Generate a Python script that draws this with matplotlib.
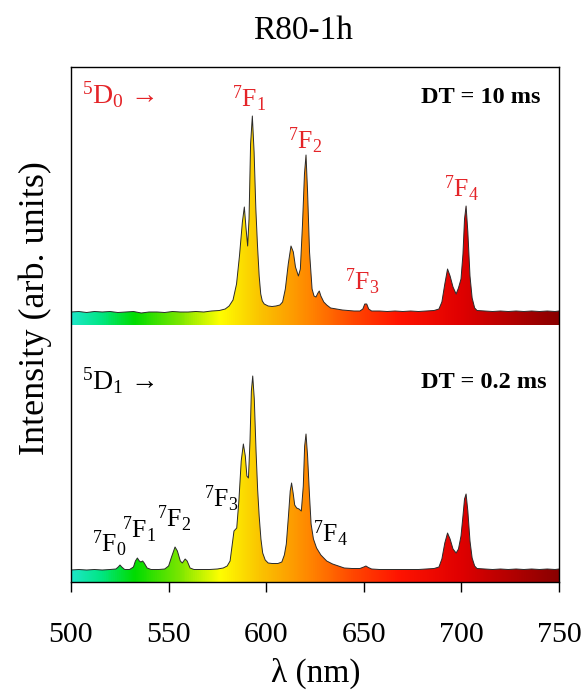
import numpy as np
import matplotlib
matplotlib.use("Agg")
import matplotlib.pyplot as plt
from matplotlib.colors import LinearSegmentedColormap
from matplotlib.patches import Polygon

plt.rcParams["font.family"] = ["Liberation Serif", "DejaVu Serif"]
plt.rcParams["mathtext.fontset"] = "custom"
plt.rcParams["mathtext.rm"] = "Liberation Serif"
plt.rcParams["mathtext.it"] = "Liberation Serif:italic"

#%% spectra (intensity above baseline, arb. units)
wl_10ms = [500, 504, 508, 512, 516, 520, 524, 528, 532, 536, 540, 544, 548, 552, 556, 560, 564, 568, 572, 576,
           579, 581, 583, 584.8, 586.3, 587.8, 588.8, 589.7, 590.5, 591.2, 592.0, 592.9, 593.8, 594.7, 595.5,
           596.4, 597.2, 598, 599, 601, 603, 605, 607, 608.4, 609.8, 611.3, 612.7, 613.9, 615, 616.5, 617.5,
           618.6, 619.6, 620.4, 621.2, 622.2, 623.5, 624.5, 625.5, 626.5, 627.2, 628, 629.5, 631, 633, 636,
           639, 642, 645, 648, 649.5, 650.5, 651.5, 652.5, 654, 658, 662, 666, 670, 674, 678, 682, 686, 688.5,
           690, 691.5, 692.9, 694.2, 695.7, 697.3, 698.5, 699.8, 700.8, 701.6, 702.4, 703.3, 704.4, 705.5,
           706.8, 708, 712, 716, 720, 724, 728, 732, 736, 740, 744, 748, 750]
I_10ms = [2, 2.5, 1.5, 2.5, 2, 2.5, 1.5, 2, 2.5, 1, 2, 2, 1.5, 2.5, 2, 2, 2.5, 2, 3, 3.5,
          5, 8, 14, 30, 58, 92, 107, 85, 68, 95, 170, 198, 162, 105, 70, 38,
          20, 13, 10, 8, 7.5, 8, 9, 12, 25, 50, 68, 62, 47, 38, 45, 90,
          140, 159, 122, 62, 25, 18, 17, 21, 23, 18, 12, 9, 6, 5,
          4, 3.5, 3, 3, 5, 10, 10, 5, 3, 3, 2.5, 3, 2.5, 3, 2.5, 3, 3.5, 5,
          12, 30, 45, 38, 27, 20, 26, 35, 60, 95, 108, 82, 38, 16,
          6, 3.5, 3, 2.5, 3, 2.5, 3, 2.5, 3, 2.5, 3, 2.5, 3]

wl_02ms = [500, 504, 508, 512, 516, 520, 523, 524.2, 525.1, 526, 527.5, 530, 532, 533, 534, 535, 535.8, 536.7,
           537.5, 539, 541, 545, 548, 550, 551.5, 553.3, 554.5, 556, 557, 558.5, 559.5, 561, 563, 567, 571,
           575, 578, 580, 581.5, 582.5, 583.5, 584.9, 586, 587.2, 588.3, 589.3, 590.1, 590.9, 591.7, 592.4,
           593.1, 593.9, 594.8, 595.6, 596.4, 597.3, 598.2, 599.5, 601, 603, 606, 608, 609.3, 610.3, 611.4,
           612.3, 613, 613.8, 614.6, 615.6, 616.8, 618, 619, 619.7, 620.4, 621.2, 622.2, 623, 624.2, 625.8,
           628, 631, 634, 637, 640, 644, 648, 650, 651.1, 652.3, 654, 658, 662, 666, 670, 674, 678, 682, 686,
           688.5, 690, 691.5, 692.9, 694.2, 695.7, 697.3, 698.5, 699.8, 700.8, 701.6, 702.4, 703.3, 704.4,
           705.5, 706.8, 708, 712, 716, 720, 724, 728, 732, 736, 740, 744, 748, 750]
I_02ms = [1, 1.5, 1, 1.5, 1, 1.5, 2, 4, 6, 4, 1.5, 1.5, 4, 10, 13, 10, 9, 10,
          8, 3, 1.5, 1.5, 2, 5, 14, 24, 20, 10, 8, 12, 10, 3, 1.5, 1.5, 1.5,
          2, 3, 5, 10, 25, 40, 43, 70, 110, 127, 115, 95, 93, 130, 180,
          195, 172, 120, 82, 55, 32, 18, 11, 8, 7.5, 7.5, 9, 16, 27, 55,
          80, 88, 78, 66, 63, 62, 60, 85, 125, 137, 115, 75, 47, 32, 23,
          16, 10, 7, 5, 3, 2.5, 2.5, 4, 5, 3.5, 2, 1.5, 1.5, 1.5, 1.5, 1.5, 1.5, 2, 2.5,
          4, 12, 28, 38, 32, 22, 18, 22, 35, 55, 72, 77, 60, 30, 13,
          5, 2.5, 2, 1.5, 2, 1.5, 2, 1.5, 2, 1.5, 2, 1.5, 2]

# colour of the fill along the wavelength axis
grad_wl = [500, 515, 532, 555, 576, 595, 620, 645, 668, 700, 750]
grad_col = ["#1ee6c8", "#00e682", "#00dc00", "#7ae600", "#ffff00", "#fac800",
            "#ff8c00", "#ff4600", "#ff1400", "#e00000", "#8a0000"]

xticks = [500, 550, 600, 650, 700, 750]
red = "#e42428"

#%%
cmap = LinearSegmentedColormap.from_list(
    "spec", [((w - 500) / 250, c) for w, c in zip(grad_wl, grad_col)])

fig = plt.figure(figsize=(5.86, 6.93), dpi=100)
ax = fig.add_axes([71 / 586, 1 - 582 / 693, 488 / 586, 515 / 693])
ax.set_xlim(500, 750)
ax.set_ylim(0, 515)

def draw_spectrum(wl, inten, base, strip):
    wl = np.asarray(wl, float)
    y = base + np.asarray(inten, float)
    verts = [(wl[0], base - strip)] + list(zip(wl, y)) + [(wl[-1], base - strip)]
    clip = Polygon(verts, closed=True, facecolor="none", edgecolor="none")
    ax.add_patch(clip)
    grad = np.linspace(0, 1, 500).reshape(1, -1)
    im = ax.imshow(grad, cmap=cmap, aspect="auto", extent=[500, 750, base - strip, base + 220],
                   interpolation="bilinear", zorder=1)
    im.set_clip_path(clip)
    ax.plot(wl, y, color="#2a2a2a", lw=0.7, zorder=2)

draw_spectrum(wl_10ms, I_10ms, 268, 11)
draw_spectrum(wl_02ms, I_02ms, 11, 11)

# labels, top panel
ax.text(505.5, 478, r"$^5$D$_0$ →", color=red, fontsize=20, ha="left", va="baseline")
ax.text(740.5, 479, "DT = 10 ms", fontsize=17.5, fontweight="bold", ha="right", va="baseline")
ax.text(591.2, 475, r"$^7$F$_1$", color=red, fontsize=18.5, ha="center", va="baseline")
ax.text(619.9, 433, r"$^7$F$_2$", color=red, fontsize=18.5, ha="center", va="baseline")
ax.text(649.3, 292, r"$^7$F$_3$", color=red, fontsize=18.5, ha="center", va="baseline")
ax.text(700.3, 385, r"$^7$F$_4$", color=red, fontsize=18.5, ha="center", va="baseline")

# labels, bottom panel
ax.text(505.5, 192, r"$^5$D$_1$ →", fontsize=20, ha="left", va="baseline")
ax.text(743.7, 194, "DT = 0.2 ms", fontsize=17.5, fontweight="bold", ha="right", va="baseline")
ax.text(519.6, 30, r"$^7$F$_0$", fontsize=18.5, ha="center", va="baseline")
ax.text(534.8, 44, r"$^7$F$_1$", fontsize=18.5, ha="center", va="baseline")
ax.text(552.8, 55, r"$^7$F$_2$", fontsize=18.5, ha="center", va="baseline")
ax.text(576.8, 75, r"$^7$F$_3$", fontsize=18.5, ha="center", va="baseline")
ax.text(633.2, 40, r"$^7$F$_4$", fontsize=18.5, ha="center", va="baseline")

ax.set_xticks(xticks)
ax.set_yticks([])
ax.tick_params(axis="x", direction="out", length=7, width=1, labelsize=21.5, pad=22)
for sp in ax.spines.values():
    sp.set_linewidth(1.0)

fig.text(303 / 586, 1 - 39 / 693, "R80-1h", fontsize=24, ha="center", va="baseline")
fig.text(35 / 586, 1 - 308 / 693, "Intensity (arb. units)", fontsize=26, rotation=90,
         ha="center", va="center")
fig.text(316 / 586, 1 - 673 / 693, "λ (nm)", fontsize=24, ha="center", va="center")

fig.savefig("out.png", dpi=100)
